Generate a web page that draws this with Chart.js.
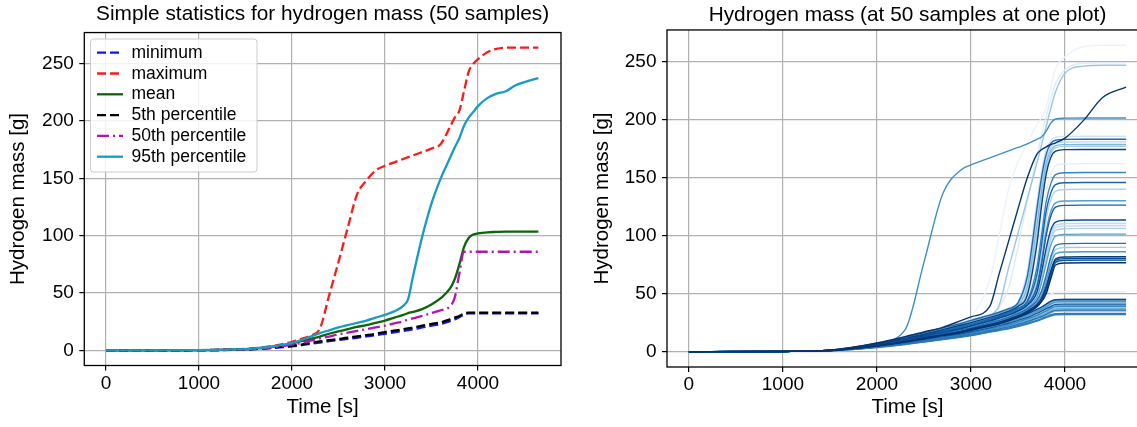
<!DOCTYPE html>
<html><head><meta charset="utf-8">
<script src="https://cdn.jsdelivr.net/npm/chart.js@4.4.1/dist/chart.umd.min.js"></script>
<style>
html,body{margin:0;padding:0;background:#fff;width:1137px;height:427px;overflow:hidden;position:relative;}
canvas{position:absolute;top:0;}
#c1{left:0;} #c2{left:570px;}
</style></head><body>
<canvas id="c1" width="570" height="427"></canvas>
<canvas id="c2" width="578" height="427"></canvas>
<script>
// ---------- tick labels ----------
const timeTicks = [0, 1000, 2000, 3000, 4000];
const massTicks = [0, 50, 100, 150, 200, 250];

// ---------- left chart: statistics ----------
const statTime = [0, 500, 1000, 1500, 1700, 1900, 2000, 2100, 2200, 2300, 2400, 2500, 2600, 2700, 2800, 2900, 3000, 3100, 3200, 3250, 3300, 3400, 3500, 3600, 3700, 3750, 3800, 3850, 3900, 3950, 4000, 4100, 4200, 4300, 4400, 4500, 4650];
const statNames = ['minimum', 'maximum', 'mean', '5th percentile', '50th percentile', '95th percentile'];
const minimum = [0, 0, 0.2, 0.7, 1.6, 2.8, 3.5, 4.5, 5.7, 6.8, 8, 9, 10, 11, 12.2, 13.3, 14.5, 15.7, 17, 17.7, 18.4, 20, 21.5, 23, 25.5, 27, 29, 31, 32.3, 32.3, 32.3, 32.3, 32.3, 32.3, 32.3, 32.3, 32.3];
const maximum = [0, 0, 0.2, 1.2, 2.8, 5.5, 7.5, 10, 13, 19, 48, 77, 107, 136, 148, 157, 161, 164, 167, 168.5, 170, 173, 176, 180, 195, 203, 209, 226, 243, 250, 254, 260, 263, 264, 264, 264, 264];
const mean = [0, 0, 0.2, 1, 2.3, 4.3, 6, 8, 10, 12, 14.5, 16.5, 18.5, 20.5, 22, 24, 26, 28.5, 31, 32.5, 33.5, 36, 40, 45.5, 54, 62, 75, 90, 98, 101, 102, 103, 103.3, 103.5, 103.5, 103.5, 103.5];
const p5 = [0, 0, 0.2, 0.8, 1.8, 3.2, 4, 5, 6.5, 7.8, 9, 10, 11, 12.2, 13.3, 14.5, 16, 17.2, 18.5, 19.2, 20, 21.5, 23, 24.5, 27, 28.5, 30, 32, 33, 33, 33, 33, 33, 33, 32.9, 32.8, 32.8];
const p50 = [0, 0, 0.2, 0.9, 2, 3.8, 5, 6.5, 8.5, 10.5, 12, 14, 15.5, 17, 18.5, 20, 21.5, 23.5, 25.5, 27, 28, 30, 32.5, 35, 38.5, 46, 67, 86, 86, 86, 86, 86, 86, 86, 86, 86, 86];
const p95 = [0, 0, 0.2, 1.1, 2.5, 4.8, 6.5, 9, 12, 15, 17.5, 20, 22, 24, 26, 28.5, 31, 34, 39, 45, 64, 99, 128, 150, 168, 177, 185, 196, 203, 208, 213, 220, 224, 226, 231, 234, 237.5];

// ---------- right chart: 50 samples ----------
const sampleTime = [0, 1000, 1500, 2000, 2300, 2500, 2700, 2900, 3000, 3200, 3300, 3400, 3500, 3600, 3700, 3750, 3800, 3850, 3900, 4000, 4200, 4400, 4650];
const earlyRiserLines = [
  [0, 0.2, 1.3, 7.5, 19, 77, 136, 157, 161, 167, 170, 173, 176, 179, 183, 185, 190, 197, 200.5, 201.2, 201.4, 201.4, 201.4],
  [0, 0.2, 1.3, 7.5, 13, 17, 21, 26, 30, 62, 100, 140, 163, 180, 195, 202, 210, 228, 244, 254, 263, 264, 264],
  [0, 0.2, 1.2, 7, 12, 15.5, 19, 23, 25.5, 30, 38, 55, 90, 130, 168, 186, 203, 218, 231, 243, 248.5, 249, 249],
  [0, 0.2, 1.3, 7.5, 13, 17, 21, 27, 30, 39, 67, 95, 123, 150, 170, 174, 176.5, 178.5, 180, 184, 199.5, 219, 228],
  [0, 0.2, 1.2, 7, 12, 16, 19.5, 23.5, 26, 31, 40, 72, 102, 132, 162, 178, 194, 210, 224, 240, 246, 246.8, 246.8]
];
const earlyRiserShades = [31, 3, 6, 48, 19];
const highJumpLines = [
  [0, 0.2, 1.2, 7, 12.5, 16.5, 20.5, 25, 27.5, 32, 34.5, 37.5, 43, 70, 128, 155, 174, 182, 184.8, 185.5, 185.6, 185.6, 185.6],
  [0, 0.2, 1.2, 7, 12.5, 16.5, 20.5, 24.5, 27, 31.5, 34, 37, 42, 65, 122, 150, 170, 179.5, 182.2, 182.9, 183, 183, 183],
  [0, 0.2, 1.1, 6.5, 12, 16, 20, 24, 26.5, 31, 33.5, 36.5, 41, 60, 115, 145, 166, 176.5, 179.8, 180.7, 180.8, 180.8, 180.8],
  [0, 0.2, 1.1, 6.5, 12, 15.5, 19.5, 23.5, 26, 30.5, 33, 36, 40, 56, 108, 138, 162, 173.5, 177.5, 178.4, 178.5, 178.5, 178.5],
  [0, 0.2, 1.1, 6.5, 11.5, 15.5, 19, 23, 25.5, 30, 32.5, 35.5, 39.5, 52, 100, 132, 158, 171, 175.8, 176.9, 177, 177, 177],
  [0, 0.2, 1.1, 6.5, 11.5, 15, 19, 23, 25, 29.5, 32, 35, 39, 49, 92, 125, 153, 167.5, 172.8, 174.1, 174.2, 174.2, 174.2]
];
const highJumpShades = [9, 38, 14, 22, 17, 46];
const midJumpLines = [
  [0, 0.2, 1.1, 6.5, 11.5, 15, 18.5, 22.5, 24.5, 29, 31.5, 34.5, 38, 46, 80, 110, 138, 153, 160, 161.8, 162, 162, 162],
  [0, 0.2, 1.1, 6.5, 11, 14.5, 18, 22, 24, 28.5, 31, 34, 37.5, 44, 72, 100, 129, 145, 152.5, 154.2, 154.4, 154.4, 154.4],
  [0, 0.2, 1.1, 6.5, 11, 14.5, 18, 21.5, 23.5, 28, 30.5, 33.5, 37, 43, 66, 92, 121, 137, 144, 145.6, 145.8, 145.8, 145.8],
  [0, 0.2, 1, 6, 10.5, 14, 17.5, 21, 23, 27.5, 30, 33, 36.5, 42, 62, 86, 114, 131, 138.3, 139.8, 140, 140, 140],
  [0, 0.2, 1, 6, 10.5, 14, 17, 20.5, 22.5, 27, 29.5, 32.5, 36, 41, 57, 78, 104, 121, 128.3, 129.8, 130, 130, 130],
  [0, 0.2, 1, 6, 10.5, 13.5, 17, 20.5, 22.5, 27, 29.5, 32, 35.5, 40.5, 55, 75, 100, 117, 124.5, 126.1, 126.3, 126.3, 126.3],
  [0, 0.2, 1, 6, 10, 13.5, 16.5, 20, 22, 26.5, 29, 31.5, 35, 40, 51, 68, 89, 105, 111.7, 113.2, 113.4, 113.4, 113.4],
  [0, 0.2, 1, 6, 10, 13, 16.5, 20, 22, 26, 28.5, 31, 34.5, 39.5, 50, 66, 86, 102, 108.8, 110.3, 110.5, 110.5, 110.5],
  [0, 0.2, 1, 5.5, 10, 13, 16, 19.5, 21.5, 26, 28.5, 31, 34, 39, 49, 64, 84, 100, 106.8, 108.3, 108.5, 108.5, 108.5],
  [0, 0.2, 1, 5.5, 9.5, 13, 16, 19.5, 21.5, 25.5, 28, 30.5, 34, 38.5, 48, 62, 81, 97, 104.5, 106, 106.2, 106.2, 106.2],
  [0, 0.2, 1, 5.5, 9.5, 12.5, 15.5, 19, 21, 25.5, 27.5, 30, 33.5, 38, 46.5, 59, 76, 92, 99.6, 101.1, 101.3, 101.3, 101.3]
];
const midJumpShades = [5, 33, 39, 15, 28, 40, 44, 13, 12, 16, 27];
const lowJumpLines = [
  [0, 0.2, 1, 5.5, 9.5, 12.5, 15.5, 19, 20.5, 25, 27, 29.5, 33, 37, 44, 52, 66, 82, 91.5, 93.1, 93.3, 93.3, 93.3],
  [0, 0.2, 1, 5.5, 9.5, 12.5, 15.5, 18.5, 20.5, 24.5, 26.5, 29, 32.5, 36.5, 43, 50, 63, 79, 88.2, 89.7, 89.9, 89.9, 89.9],
  [0, 0.2, 1, 5.5, 9, 12, 15, 18, 20, 24, 26, 28.5, 32, 36, 42, 48, 60, 75, 84.5, 85.9, 86.1, 86.1, 86.1],
  [0, 0.2, 1, 5.5, 9, 12, 15, 18, 20, 24, 26, 28.5, 31.5, 35.5, 41.5, 48, 59, 74, 84.3, 85.8, 86, 86, 86],
  [0, 0.2, 1, 5, 9, 12, 14.5, 17.5, 19.5, 23.5, 25.5, 28, 31, 35, 40.5, 46, 56, 70, 80, 81.6, 81.8, 81.8, 81.8],
  [0, 0.2, 1, 5, 9, 11.5, 14.5, 17.5, 19.5, 23, 25, 27.5, 30.5, 34.5, 40, 45, 55, 68.5, 78.6, 80.2, 80.4, 80.4, 80.4],
  [0, 0.2, 1, 5, 8.5, 11.5, 14.5, 17.5, 19, 23, 25, 27.5, 30.5, 34.5, 40, 45, 54, 68, 78.2, 79.8, 80, 80, 80],
  [0, 0.2, 1, 5, 8.5, 11.5, 14, 17, 19, 22.5, 24.5, 27, 30, 34, 39.5, 44.5, 53, 67, 77.2, 78.8, 79, 79, 79],
  [0, 0.2, 1, 5, 8.5, 11, 14, 17, 18.5, 22.5, 24.5, 27, 30, 34, 39, 44, 52, 66, 77, 78.7, 78.9, 78.9, 78.9],
  [0, 0.2, 1, 5, 8.5, 11, 14, 16.5, 18.5, 22, 24, 26.5, 29.5, 33.5, 38.5, 43, 50, 63, 74.7, 76.4, 76.6, 76.6, 76.6]
];
const lowJumpShades = [37, 18, 29, 1, 47, 43, 8, 20, 42, 49];
const flatLines = [
  [0, 0.2, 1, 5.5, 9.5, 12.5, 15.5, 19, 20.5, 25, 27, 29.5, 32.5, 36, 40.5, 43.5, 46.5, 49.5, 51.3, 51.6, 51.6, 51.6, 51.6],
  [0, 0.2, 1, 5, 8.5, 11.5, 14.5, 17.5, 19, 23, 25, 27, 29.5, 32.5, 36.5, 38.5, 41, 43.5, 44.8, 45, 45, 45, 45],
  [0, 0.2, 1, 5, 8.5, 11, 14, 17, 18.5, 22.5, 24.5, 26.5, 29, 32, 36, 38, 40.5, 43, 44.7, 45, 45, 45, 45],
  [0, 0.2, 1, 5, 8.5, 11, 14, 17, 18.5, 22, 24, 26, 28.5, 31.5, 35, 37, 39.5, 42, 43.8, 44, 44, 44, 44],
  [0, 0.2, 1, 5, 8, 10.5, 13.5, 16.5, 18, 21.5, 23.5, 25.5, 28, 31, 34.5, 36.5, 38.5, 41, 42.8, 43, 43, 43, 43],
  [0, 0.2, 1, 4.8, 8, 10.5, 13, 16, 17.5, 21, 23, 25, 27.5, 30, 33.5, 35.5, 37.5, 40, 41.8, 42, 42, 42, 42],
  [0, 0.2, 1, 4.8, 8, 10.5, 13, 15.5, 17, 20.5, 22.5, 24.5, 27, 29.5, 33, 35, 37, 39, 40.8, 41, 41, 41, 41],
  [0, 0.2, 0.9, 4.6, 7.5, 10, 12.5, 15, 16.5, 20, 22, 24, 26, 28.5, 32, 34, 36, 38, 39.8, 40, 40, 40, 40],
  [0, 0.2, 0.9, 4.5, 7.5, 10, 12.5, 15, 16.5, 20, 21.5, 23.5, 26, 28.5, 31.5, 33.5, 35.5, 38, 39.7, 40, 40, 40, 40],
  [0, 0.2, 0.9, 4.5, 7.5, 9.8, 12.2, 14.7, 16, 19.5, 21, 23, 25.5, 28, 31, 33, 35, 37, 38.8, 39, 39, 39, 39],
  [0, 0.2, 0.9, 4.3, 7.3, 9.6, 12, 14.3, 15.7, 19, 20.5, 22.5, 25, 27.5, 30.5, 32, 34, 36, 37.8, 38, 38, 38, 38],
  [0, 0.2, 0.9, 4.3, 7.2, 9.5, 11.8, 14.2, 15.5, 18.8, 20.3, 22.2, 24.5, 27, 30, 31.5, 33.5, 35.5, 37.2, 37.4, 37.4, 37.4, 37.4],
  [0, 0.2, 0.9, 4.1, 7, 9.2, 11.5, 13.8, 15, 18.3, 19.8, 21.5, 23.7, 26.2, 29, 30.5, 32.5, 34.5, 35.8, 36, 36, 36, 36],
  [0, 0.2, 0.9, 4.1, 7, 9.2, 11.4, 13.7, 15, 18.2, 19.7, 21.4, 23.6, 26, 28.8, 30.3, 32.2, 34.3, 35.7, 35.9, 35.9, 35.9, 35.9],
  [0, 0.2, 0.85, 4, 6.8, 9, 11.2, 13.4, 14.7, 17.8, 19.3, 21, 23, 25.5, 28.2, 29.7, 31.5, 33.5, 34.8, 35, 35, 35, 35],
  [0, 0.2, 0.8, 3.8, 6.5, 8.6, 10.7, 12.9, 14.2, 17.2, 18.7, 20.3, 22.3, 24.5, 27, 28.5, 30.2, 31.8, 32.8, 33, 33, 33, 33],
  [0, 0.2, 0.8, 3.7, 6.4, 8.5, 10.6, 12.8, 14, 17, 18.5, 20, 22, 24.2, 26.7, 28.2, 29.8, 31.3, 32.3, 32.5, 32.5, 32.5, 32.5],
  [0, 0.2, 0.8, 3.5, 6.2, 8.3, 10.4, 12.6, 13.8, 16.8, 18.3, 19.8, 21.7, 23.8, 26.3, 27.8, 29.3, 30.8, 31.8, 32, 32, 32, 32]
];
const flatShades = [4, 45, 25, 23, 30, 10, 41, 2, 26, 32, 11, 24, 0, 36, 21, 35, 7, 34];

// ---------- styling ----------
const FONT = '"Liberation Sans", Arial, sans-serif';
const tickFont = {family: FONT, size: 19};
const labelFont = {family: FONT, size: 20.5};
const bluesStops = [[247,251,255],[222,235,247],[198,219,239],[158,202,225],[107,174,214],[66,146,198],[33,113,181],[8,81,156],[8,48,107]];
function blues(k) {
  const p = (k / 49) * 8;
  const i = Math.min(7, Math.floor(p));
  const t = p - i;
  const a = bluesStops[i], b = bluesStops[i + 1];
  return 'rgb(' + [0,1,2].map(j => Math.round(a[j] + (b[j] - a[j]) * t)).join(',') + ')';
}
const toXY = (times, vals) => times.map((t, i) => ({x: t, y: vals[i]}));

const framePlugin = {
  id: 'frame',
  afterDatasetsDraw(chart) {
    const {left, top, right, bottom} = chart.chartArea;
    const ctx = chart.ctx;
    ctx.save();
    ctx.strokeStyle = '#000';
    ctx.lineWidth = 1.3;
    ctx.strokeRect(left, top, right - left, bottom - top);
    ctx.restore();
  }
};

const boxLegend = {
  id: 'boxLegend',
  afterDraw(chart) {
    const ctx = chart.ctx;
    ctx.save();
    const x = 90.5, y = 39, w = 166.5, h = 133, r = 3;
    ctx.beginPath();
    ctx.moveTo(x + r, y); ctx.lineTo(x + w - r, y); ctx.quadraticCurveTo(x + w, y, x + w, y + r);
    ctx.lineTo(x + w, y + h - r); ctx.quadraticCurveTo(x + w, y + h, x + w - r, y + h);
    ctx.lineTo(x + r, y + h); ctx.quadraticCurveTo(x, y + h, x, y + h - r);
    ctx.lineTo(x, y + r); ctx.quadraticCurveTo(x, y, x + r, y);
    ctx.closePath();
    ctx.fillStyle = 'rgba(255,255,255,0.85)';
    ctx.fill();
    ctx.strokeStyle = '#cccccc';
    ctx.lineWidth = 1;
    ctx.stroke();
    chart.data.datasets.forEach((ds, i) => {
      const cy = 52.7 + i * 20.8;
      ctx.setLineDash(ds.borderDash || []);
      ctx.strokeStyle = ds.borderColor;
      ctx.lineWidth = ds.borderWidth;
      ctx.beginPath(); ctx.moveTo(97, cy); ctx.lineTo(123, cy); ctx.stroke();
      ctx.setLineDash([]);
      ctx.fillStyle = '#000';
      ctx.font = '17.5px ' + FONT;
      ctx.textBaseline = 'alphabetic';
      ctx.textAlign = 'left';
      ctx.fillText(ds.label, 131.5, cy + 5);
    });
    ctx.restore();
  }
};

function makeOptions(cfg) {
  const grid = {color: '#b0b0b0', lineWidth: 1.2, tickLength: 5, tickColor: '#000', tickWidth: 1.2, drawTicks: true};
  return {
    responsive: false, animation: false, devicePixelRatio: 1,
    layout: {padding: {left: 0, right: cfg.padRight, top: 0, bottom: 0}},
    elements: {point: {radius: 0}, line: {cubicInterpolationMode: 'monotone'}},
    plugins: {
      legend: {display: false}, tooltip: {enabled: false},
      title: {display: true, text: cfg.title, color: '#000', fullSize: false,
        font: {family: FONT, size: 20.8, weight: 'normal'}, padding: cfg.titlePad}
    },
    scales: {
      x: {
        type: 'linear', min: -233, max: cfg.xMax,
        afterBuildTicks: a => { a.ticks = timeTicks.map(v => ({value: v})); },
        afterFit: a => { a.height = cfg.xHeight; },
        ticks: {font: tickFont, color: '#000', padding: 1.6, maxRotation: 0, autoSkip: false, callback: v => String(v)},
        grid: grid, border: {display: false},
        title: {display: true, text: 'Time [s]', font: labelFont, color: '#000', padding: {top: 0, bottom: 7.7}}
      },
      y: {
        type: 'linear', min: -13.2, max: 277.2,
        afterBuildTicks: a => { a.ticks = massTicks.map(v => ({value: v})); },
        afterFit: a => { a.width = cfg.yWidth; },
        ticks: {font: tickFont, color: '#000', padding: 5.5, callback: v => String(v)},
        grid: grid, border: {display: false},
        title: {display: true, text: 'Hydrogen mass [g]', font: labelFont, color: '#000', padding: {top: cfg.yTitlePad, bottom: 0}}
      }
    }
  };
}

// ---------- left chart ----------
const statValues = [minimum, maximum, mean, p5, p50, p95];
const statColors = ['#1515ee', '#ff1a1a', '#0b650b', '#000000', '#b512b5', '#199bc2'];
const statDash = [[9, 4], [9, 4], [], [9, 4], [12, 4, 2, 4], []];
new Chart(document.getElementById('c1'), {
  type: 'line',
  data: {
    datasets: statNames.map((name, i) => ({
      label: name, data: toXY(statTime, statValues[i]),
      borderColor: statColors[i], borderWidth: 2.3, borderDash: statDash[i],
      fill: false, order: 5 - i
    }))
  },
  options: makeOptions({title: 'Simple statistics for hydrogen mass (50 samples)', titlePad: {top: 2.2, bottom: 5.4},
    xMax: 4893, xHeight: 61.5, yWidth: 84.3, yTitlePad: 5.7, padRight: 9}),
  plugins: [framePlugin, boxLegend]
});

// ---------- right chart ----------
const sampleGroups = [
  [earlyRiserLines, earlyRiserShades],
  [highJumpLines, highJumpShades],
  [midJumpLines, midJumpShades],
  [lowJumpLines, lowJumpShades],
  [flatLines, flatShades]
];
const sampleSets = [];
sampleGroups.forEach(([lines, shades]) => {
  lines.forEach((vals, i) => {
    sampleSets.push({
      label: 'sample ' + shades[i], data: toXY(sampleTime, vals),
      borderColor: blues(shades[i]), borderWidth: 1.4, fill: false, order: 49 - shades[i]
    });
  });
});
new Chart(document.getElementById('c2'), {
  type: 'line',
  data: {datasets: sampleSets},
  options: makeOptions({title: 'Hydrogen mass (at 50 samples at one plot)', titlePad: {top: 2.7, bottom: 2.3},
    xMax: 4883, xHeight: 60, yWidth: 97, yTitlePad: 20.2, padRight: 0}),
  plugins: [framePlugin]
});
</script>
</body></html>
